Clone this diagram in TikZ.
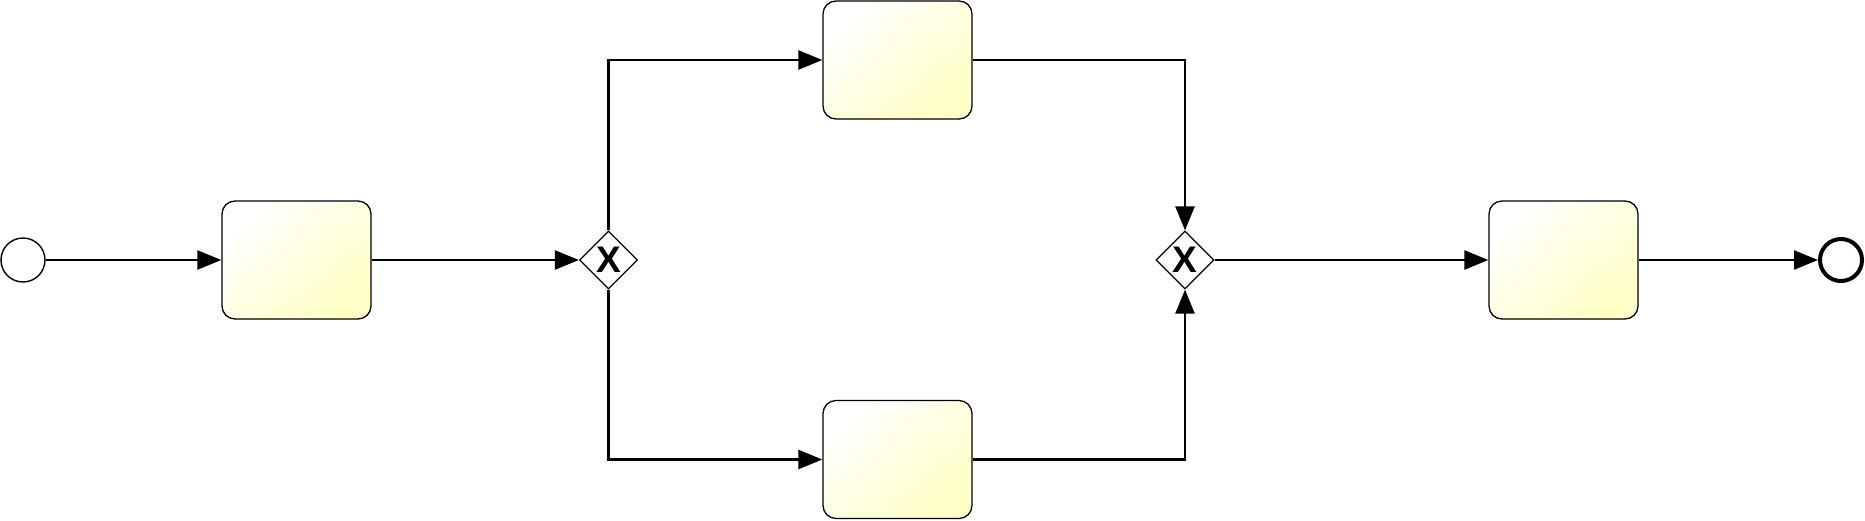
\documentclass[tikz,border=0pt]{standalone}
\usepackage{fontspec}
\setsansfont{Liberation Sans}
\usetikzlibrary{arrows.meta,shapes.geometric}
\begin{document}
\begin{tikzpicture}[x=1pt,y=1pt,
  task/.style={rectangle, rounded corners=13pt, draw=black, line width=1.3pt,
    minimum width=149pt, minimum height=118pt, inner sep=0pt,
    top color=white, bottom color=yellow!22, shading angle=40},
  gate/.style={diamond, draw=black, fill=white, line width=1.2pt,
    minimum width=58pt, minimum height=58pt, inner sep=0pt},
  gx/.style={font=\sffamily\bfseries\fontsize{37}{37}\selectfont, inner sep=0pt},
  flow/.style={line width=2.4pt, -{Triangle[length=24pt,width=19pt]}},
  startev/.style={circle, draw=black, line width=1.4pt, fill=white, minimum size=44pt, inner sep=0pt},
  endev/.style={circle, draw=black, line width=4pt, fill=white, minimum size=42pt, inner sep=0pt}]
\useasboundingbox (0,0) rectangle (1865,-520);
\node[startev] (start) at (23,-260) {};
\node[task] (t1) at (296.5,-260) {};
\node[gate] (g1) at (608.5,-260) {};
\node[gx] (g1x) at (608.5,-260) {X};
\node[task] (t2) at (897.5,-60) {};
\node[task] (t3) at (897.5,-459.5) {};
\node[gate] (g2) at (1185,-260) {};
\node[gx] (g2x) at (1185,-260) {X};
\node[task] (t4) at (1563.5,-260) {};
\node[endev] (end) at (1841,-260) {};
\draw[flow] (start) -- (t1);
\draw[flow] (t1.east) -- (g1.west);
\draw[flow] (g1.north) |- (t2.west);
\draw[flow] (g1.south) |- (t3.west);
\draw[flow] (t2.east) -| (g2.north);
\draw[flow] (t3.east) -| (g2.south);
\draw[flow] (g2.east) -- (t4.west);
\draw[flow] (t4.east) -- (end.west);
\end{tikzpicture}
\end{document}
